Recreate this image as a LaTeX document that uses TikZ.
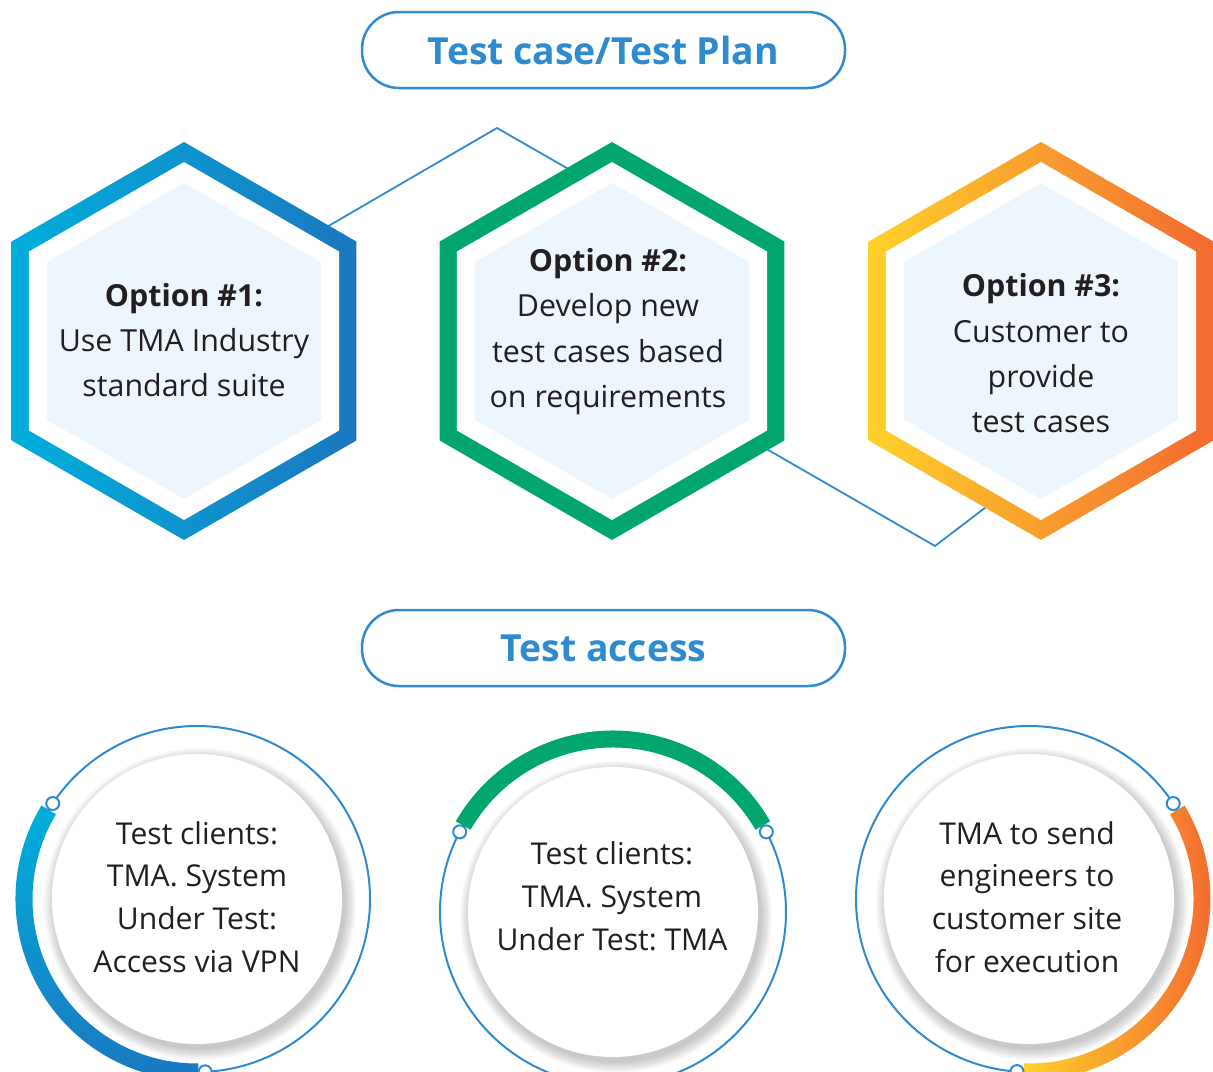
\documentclass[tikz,border=0pt]{standalone}
\usepackage{fontspec}
\setmainfont{Open Sans}
\usetikzlibrary{calc}
\usetikzlibrary{shapes.geometric}
\usetikzlibrary{backgrounds}
\frenchspacing

\definecolor{tmablue}{HTML}{2E8BD0}
\definecolor{tmacyan}{HTML}{00AEDB}
\definecolor{tmadeep}{HTML}{1B78C0}
\definecolor{tmagreen}{HTML}{00A66B}
\definecolor{tmayellow}{HTML}{FFD12B}
\definecolor{tmamid}{HTML}{FBB530}
\definecolor{tmaorange}{HTML}{F26A30}
\definecolor{tmapale}{HTML}{EDF6FD}
\definecolor{tmatext}{HTML}{231F20}

\begin{document}
\begin{tikzpicture}[x=1bp,y=1bp,
  hexa/.style={regular polygon,regular polygon sides=6,shape border rotate=30,
    inner sep=0pt,minimum size=#1},
  hextext/.style={align=center,text=tmatext,font=\fontsize{30.5}{45.5}\selectfont},
  ringtext/.style={align=center,text=tmatext,font=\fontsize{30.2}{43}\selectfont},
  pill/.style={draw=tmablue,line width=2.5bp,rounded corners=37bp,
    minimum width=483bp,minimum height=76bp,text=tmablue,
    font=\bfseries\fontsize{37.5}{40}\selectfont},
  link/.style={draw=tmablue,line width=1.8bp},
  ring/.style={circle,draw=tmablue,line width=2bp,minimum size=346bp,inner sep=0pt},
  knob/.style={circle,draw=tmablue,fill=white,line width=2bp,minimum size=13bp,inner sep=0pt},
  disk/.style={circle,fill=white,minimum size=290bp,inner sep=0pt},
  glow/.style={fill=black,opacity=0.02}]
  \useasboundingbox (0,0) rectangle (1213,-1072);

  % headings
  \node[pill] (plan) at (603.5,-50) {Test case/Test Plan};
  \node[pill] (access) at (603.5,-648) {Test access};

  % three options
  \node[hexa=398bp,left color=tmacyan,right color=tmadeep] (h1) at (184,-341) {};
  \node[hexa=358bp,fill=white] (h1w) at (h1) {};
  \node[hexa=316bp,fill=tmapale] (h1c) at (h1) {};
  \node[hextext] (t1) at (184,-340) {\textbf{Option \#1:}\\Use TMA Industry\\standard suite};

  \node[hexa=398bp,fill=tmagreen] (h2) at (612,-341) {};
  \node[hexa=358bp,fill=white] (h2w) at (h2) {};
  \node[hexa=316bp,fill=tmapale] (h2c) at (h2) {};
  \node[hextext] (t2) at (608,-331.5) {\textbf{Option \#2:}\\Develop new\\test cases based\\on requirements};

  \node[hexa=398bp,left color=tmayellow,middle color=tmamid,right color=tmaorange] (h3) at (1041,-341) {};
  \node[hexa=358bp,fill=white] (h3w) at (h3) {};
  \node[hexa=316bp,fill=tmapale] (h3c) at (h3) {};
  \node[hextext] (t3) at (1041,-353.5) {\textbf{Option \#3:}\\Customer to\\provide\\test cases};

  \coordinate (peak) at (497,-128);
  \coordinate (dip) at (935,-546);
  \begin{scope}[on background layer]
    \draw[link] ($(h1)+(0,31)$) -- (peak) -- ($(h2)+(0,147)$);
    \draw[link] ($(h2)+(0,-19)$) -- (dip) -- ($(h3)+(0,-124)$);
  \end{scope}

  % access rings
  \node[ring] (r1) at (197,-899) {};
  \shade[top color=tmacyan,bottom color=tmadeep]
    ($(r1)+(149:181.5)$) arc[start angle=149,end angle=270.5,radius=181.5]
    -- ($(r1)+(270.5:164.5)$) arc[start angle=270.5,end angle=149,radius=164.5] -- cycle;
  \node[knob] (k1a) at ($(r1)+(146.5:173)$) {};
  \node[knob] (k1b) at ($(r1)+(272.7:173)$) {};
  \foreach \s in {1,...,12}
    \fill[glow] ($(r1)+(3,-5)$) circle[radius=144+\s];
  \node[disk] (d1) at (r1) {};
  \node[ringtext] (q1) at (197,-897) {Test clients:\\TMA. System\\Under Test:\\Access via VPN};

  \node[ring] (r2) at (613,-912) {};
  \fill[tmagreen]
    ($(r2)+(30:181.5)$) arc[start angle=30,end angle=150,radius=181.5]
    -- ($(r2)+(150:164.5)$) arc[start angle=150,end angle=30,radius=164.5] -- cycle;
  \node[knob] (k2a) at ($(r2)+(27.6:173)$) {};
  \node[knob] (k2b) at ($(r2)+(152.4:173)$) {};
  \foreach \s in {1,...,12}
    \fill[glow] ($(r2)+(3,-5)$) circle[radius=144+\s];
  \node[disk] (d2) at (r2) {};
  \node[ringtext] (q2) at (612,-896) {Test clients:\\TMA. System\\Under Test: TMA};

  \node[ring] (r3) at (1029,-899) {};
  \shade[left color=tmayellow,right color=tmaorange]
    ($(r3)+(268.5:181.5)$) arc[start angle=268.5,end angle=391,radius=181.5]
    -- ($(r3)+(391:164.5)$) arc[start angle=391,end angle=268.5,radius=164.5] -- cycle;
  \node[knob] (k3a) at ($(r3)+(266:173)$) {};
  \node[knob] (k3b) at ($(r3)+(33.5:173)$) {};
  \foreach \s in {1,...,12}
    \fill[glow] ($(r3)+(3,-5)$) circle[radius=144+\s];
  \node[disk] (d3) at (r3) {};
  \node[ringtext] (q3) at (1027,-897) {TMA to send\\engineers to\\customer site\\for execution};
\end{tikzpicture}
\end{document}
